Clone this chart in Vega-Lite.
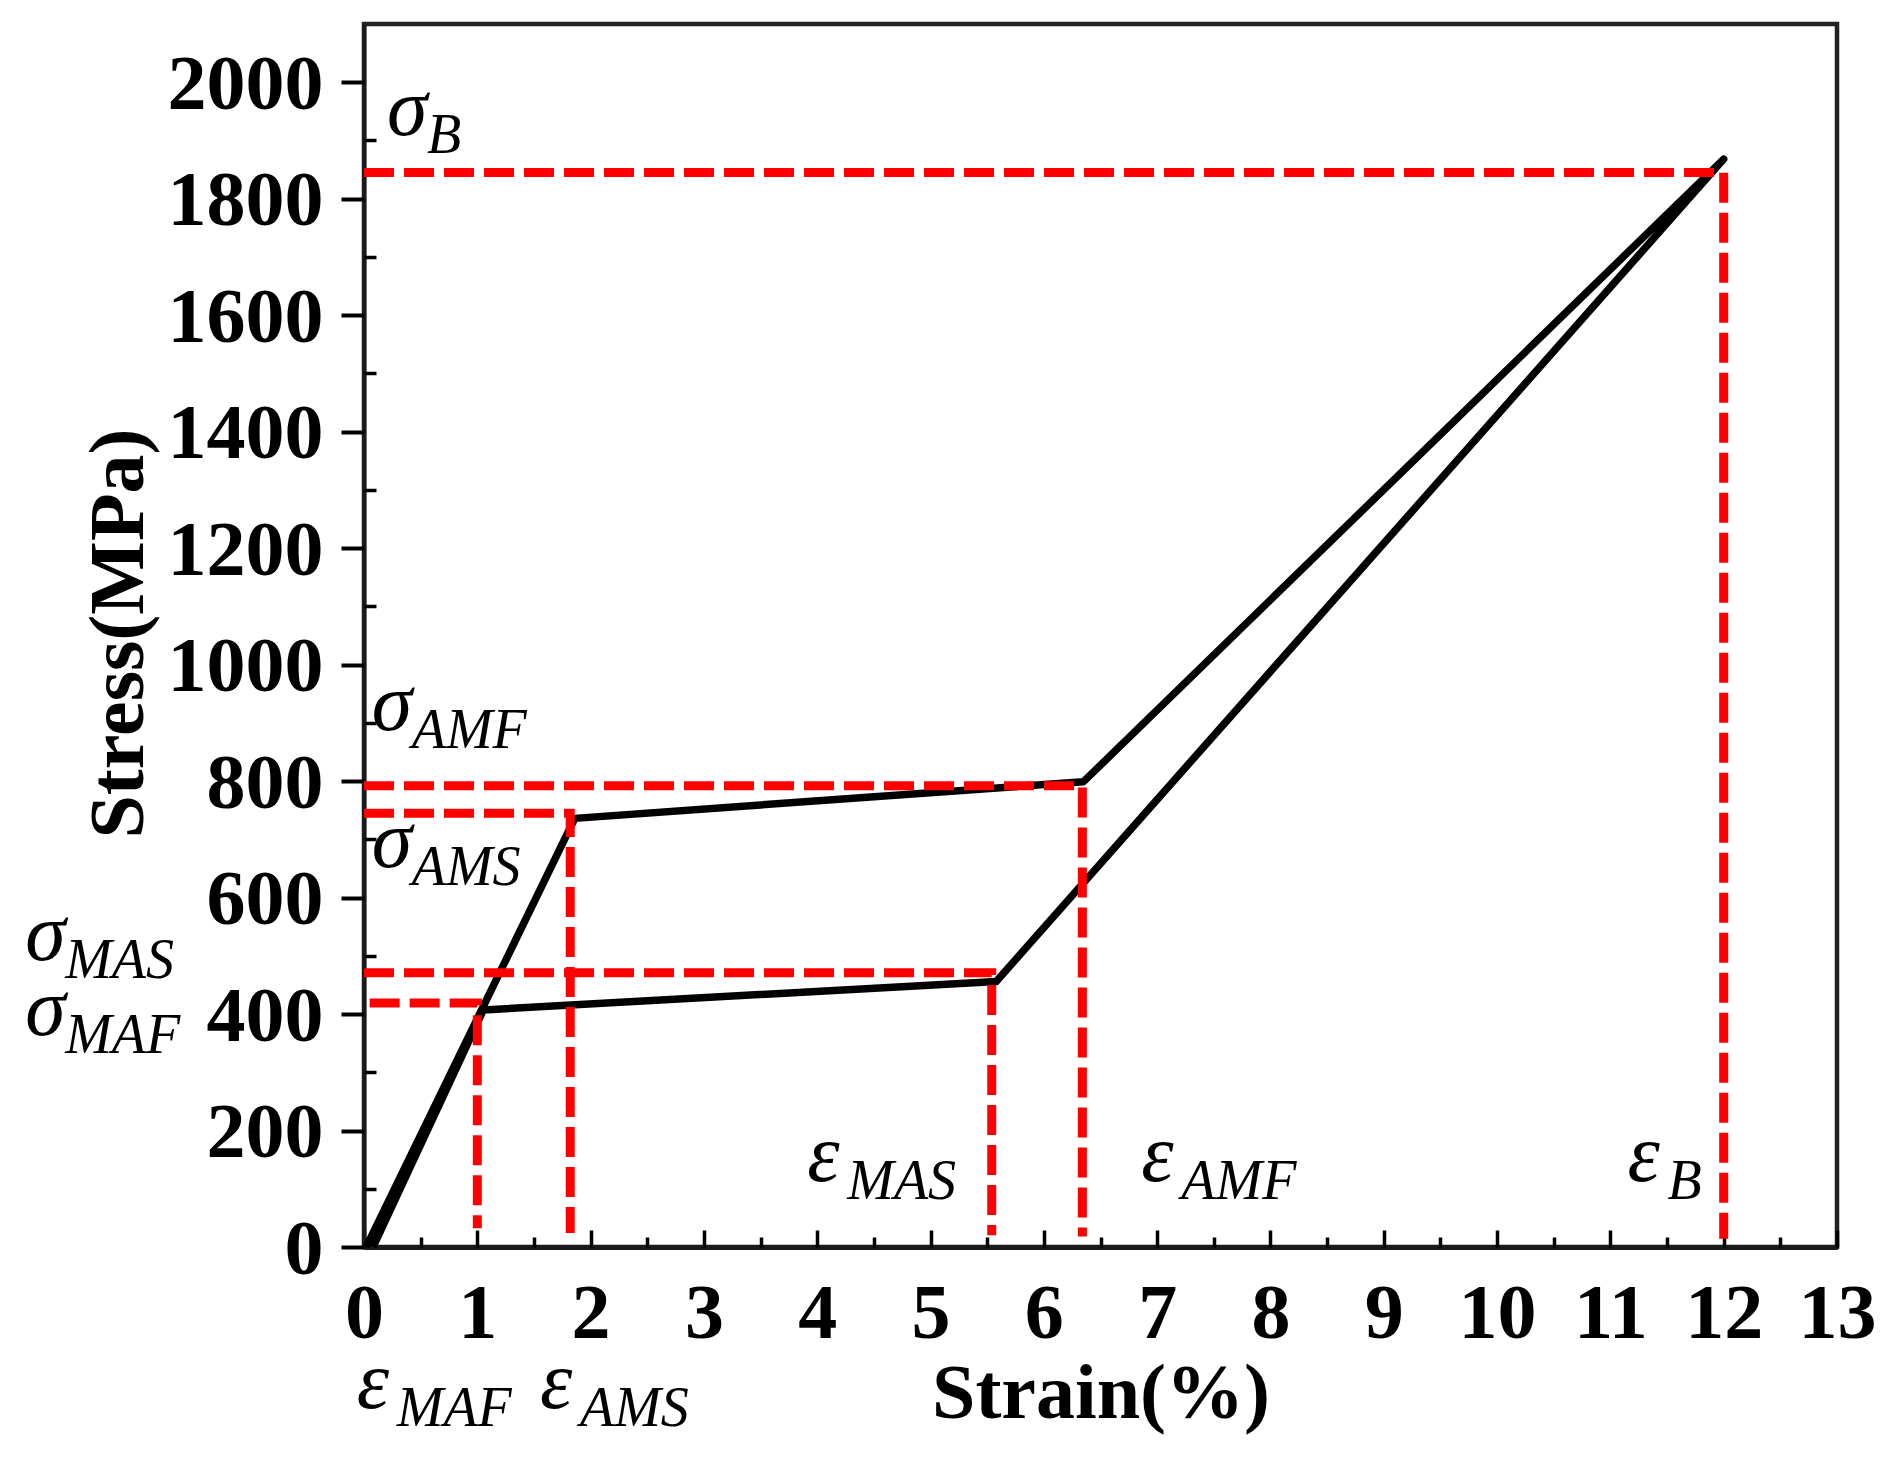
{
  "$schema": "https://vega.github.io/schema/vega-lite/v6.json",
  "width": 1473,
  "height": 1223,
  "autosize": {"type": "none"},
  "padding": {"left": 364, "top": 24, "right": 51, "bottom": 215},
  "background": "white",
  "datasets": {
    "curve": [
      {"i": 0, "strain": 0.02, "stress": 0},
      {"i": 1, "strain": 1.86, "stress": 736},
      {"i": 2, "strain": 6.35, "stress": 799},
      {"i": 3, "strain": 12.0, "stress": 1868},
      {"i": 4, "strain": 5.58, "stress": 456},
      {"i": 5, "strain": 1.053, "stress": 407},
      {"i": 6, "strain": 0.08, "stress": 0}
    ],
    "guides": [
      {"k": "B", "i": 0, "strain": 0, "stress": 1845},
      {"k": "B", "i": 1, "strain": 12.0, "stress": 1845},
      {"k": "B", "i": 2, "strain": 12.0, "stress": 14},
      {"k": "AMF", "i": 0, "strain": 0, "stress": 792},
      {"k": "AMF", "i": 1, "strain": 6.34, "stress": 792},
      {"k": "AMF", "i": 2, "strain": 6.34, "stress": 18},
      {"k": "AMS", "i": 0, "strain": 0, "stress": 745},
      {"k": "AMS", "i": 1, "strain": 1.82, "stress": 745},
      {"k": "AMS", "i": 2, "strain": 1.82, "stress": 24},
      {"k": "MAS", "i": 0, "strain": 0, "stress": 471},
      {"k": "MAS", "i": 1, "strain": 5.54, "stress": 471},
      {"k": "MAS", "i": 2, "strain": 5.54, "stress": 20},
      {"k": "MAF", "i": 0, "strain": 0.05, "stress": 419},
      {"k": "MAF", "i": 1, "strain": 1.0, "stress": 419},
      {"k": "MAF", "i": 2, "strain": 1.0, "stress": 32}
    ],
    "labels": [
      {"sym": "σ", "sub": "B", "strain": 0.203, "stress": 1910},
      {"sym": "σ", "sub": "AMF", "strain": 0.068, "stress": 888},
      {"sym": "σ", "sub": "AMS", "strain": 0.068, "stress": 653},
      {"sym": "σ", "sub": "MAS", "strain": -2.99, "stress": 493},
      {"sym": "σ", "sub": "MAF", "strain": -2.99, "stress": 364},
      {"sym": "ε", "sub": "MAF", "strain": -0.064, "stress": -277},
      {"sym": "ε", "sub": "AMS", "strain": 1.553, "stress": -277},
      {"sym": "ε", "sub": "MAS", "strain": 3.912, "stress": 114},
      {"sym": "ε", "sub": "AMF", "strain": 6.86, "stress": 114},
      {"sym": "ε", "sub": "B", "strain": 11.15, "stress": 113}
    ]
  },
  "config": {
    "view": {"stroke": "#222222", "strokeWidth": 4.5},
    "axis": {
      "grid": false,
      "labelFont": "Liberation Serif",
      "labelFontWeight": "bold",
      "labelFontSize": 78,
      "labelColor": "black",
      "titleFont": "Liberation Serif",
      "titleFontWeight": "bold",
      "titleFontSize": 78,
      "titleColor": "black",
      "tickColor": "black",
      "domainColor": "#1a1a1a"
    }
  },
  "resolve": {"axis": {"x": "independent", "y": "independent"}},
  "layer": [
    {
      "data": {"name": "curve"},
      "mark": {"type": "line", "color": "black", "strokeWidth": 7.5, "strokeJoin": "round", "strokeCap": "butt"},
      "encoding": {
        "x": {
          "field": "strain", "type": "quantitative",
          "scale": {"domain": [0, 13], "nice": false, "zero": false},
          "axis": {
            "orient": "bottom", "ticks": false, "domain": true, "domainWidth": 5,
            "values": [0, 1, 2, 3, 4, 5, 6, 7, 8, 9, 10, 11, 12, 13],
            "format": "d",
            "labelFlush": false, "labelOverlap": false,
            "labelBaseline": "alphabetic", "labelPadding": 90,
            "title": "Strain(%)", "titleBaseline": "alphabetic", "titleY": 170
          }
        },
        "y": {
          "field": "stress", "type": "quantitative",
          "scale": {"domain": [0, 2100], "nice": false},
          "axis": {
            "orient": "left", "ticks": false, "domain": true, "domainWidth": 4,
            "values": [0, 200, 400, 600, 800, 1000, 1200, 1400, 1600, 1800, 2000],
            "format": "d",
            "labelOverlap": false, "labelBaseline": "alphabetic", "labelOffset": 26, "labelPadding": 41,
            "title": "Stress(MPa)", "titleAngle": -90, "titleBaseline": "alphabetic",
            "titleAlign": "center", "titleX": -222, "titleY": 609
          }
        },
        "order": {"field": "i", "type": "quantitative"}
      }
    },
    {
      "data": {"name": "guides"},
      "mark": {"type": "line", "color": "#ff0000", "strokeWidth": 9, "strokeDash": [30, 10], "strokeCap": "butt"},
      "encoding": {
        "x": {
          "field": "strain", "type": "quantitative",
          "scale": {"domain": [0, 13], "nice": false, "zero": false},
          "axis": {
            "orient": "bottom", "labels": false, "domain": false, "title": null,
            "values": [0, 1, 2, 3, 4, 5, 6, 7, 8, 9, 10, 11, 12, 13],
            "tickSize": -17, "tickWidth": 3.5
          }
        },
        "y": {
          "field": "stress", "type": "quantitative",
          "scale": {"domain": [0, 2100], "nice": false},
          "axis": {
            "orient": "left", "labels": false, "domain": false, "title": null,
            "values": [0, 200, 400, 600, 800, 1000, 1200, 1400, 1600, 1800, 2000],
            "tickSize": 23, "tickWidth": 4
          }
        },
        "detail": {"field": "k"},
        "order": {"field": "i", "type": "quantitative"}
      }
    },
    {
      "data": {"name": "labels"},
      "mark": {"type": "text", "font": "Liberation Serif", "fontStyle": "italic", "fontSize": 82, "align": "left", "baseline": "alphabetic", "color": "black"},
      "encoding": {
        "x": {
          "field": "strain", "type": "quantitative",
          "scale": {"domain": [0, 13], "nice": false, "zero": false},
          "axis": {
            "orient": "bottom", "labels": false, "domain": false, "title": null,
            "values": [0.5, 1.5, 2.5, 3.5, 4.5, 5.5, 6.5, 7.5, 8.5, 9.5, 10.5, 11.5, 12.5],
            "tickSize": -10, "tickWidth": 3.5
          }
        },
        "y": {
          "field": "stress", "type": "quantitative",
          "scale": {"domain": [0, 2100], "nice": false},
          "axis": {
            "orient": "left", "labels": false, "domain": false, "title": null,
            "values": [100, 300, 500, 700, 900, 1100, 1300, 1500, 1700, 1900],
            "tickSize": -12, "tickWidth": 3.5
          }
        },
        "text": {"field": "sym"}
      }
    },
    {
      "data": {"name": "labels"},
      "mark": {"type": "text", "font": "Liberation Serif", "fontStyle": "italic", "fontSize": 56, "align": "left", "baseline": "alphabetic", "color": "black", "dx": 40, "dy": 18},
      "encoding": {
        "x": {"field": "strain", "type": "quantitative", "scale": {"domain": [0, 13], "nice": false, "zero": false}, "axis": null},
        "y": {"field": "stress", "type": "quantitative", "scale": {"domain": [0, 2100], "nice": false}, "axis": null},
        "text": {"field": "sub"}
      }
    }
  ]
}
